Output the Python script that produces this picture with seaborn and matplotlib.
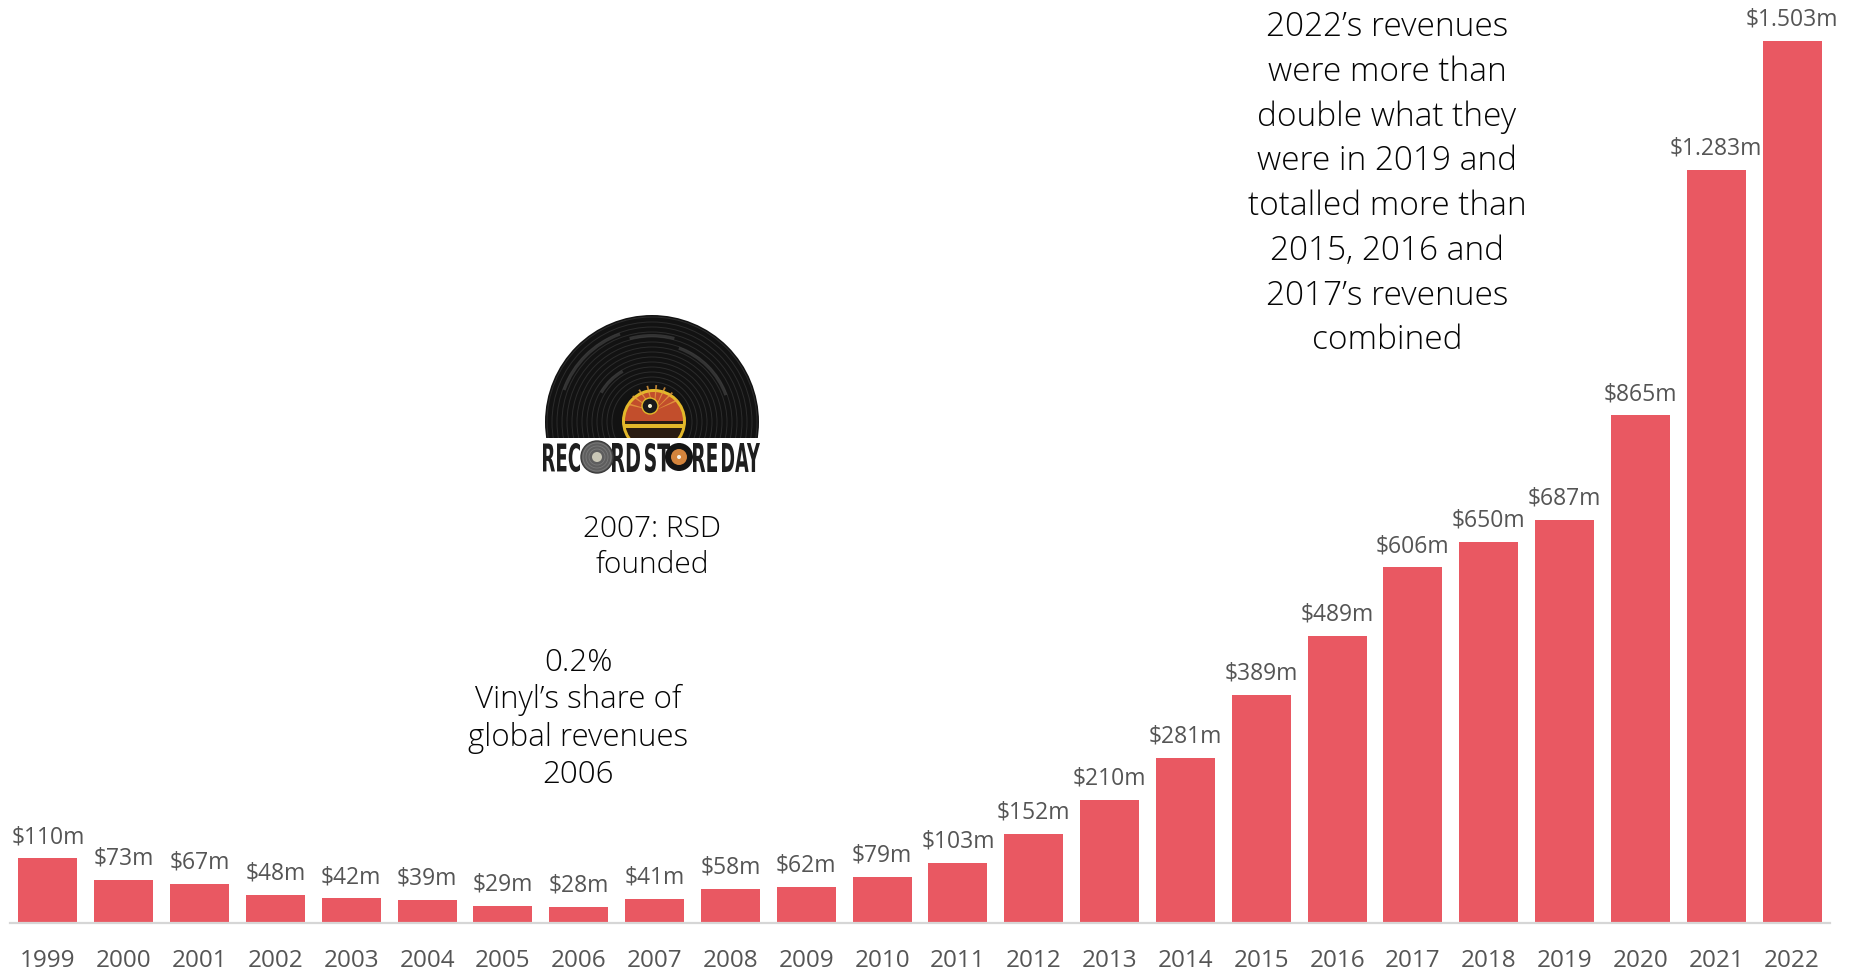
import matplotlib
matplotlib.use("Agg")
import matplotlib.pyplot as plt
import pandas as pd
import seaborn as sns
from matplotlib.patches import Circle, Rectangle, Wedge, PathPatch
from matplotlib.textpath import TextPath
from matplotlib.font_manager import FontProperties
from matplotlib.transforms import Affine2D

# Global vinyl revenues, US$ millions
years = [str(y) for y in range(1999, 2023)]
revenue_musd = [110, 73, 67, 48, 42, 39, 29, 28, 41, 58, 62, 79,
                103, 152, 210, 281, 389, 489, 606, 650, 687, 865, 1283, 1503]

note_2022 = ("2022\u2019s revenues\nwere more than\ndouble what they\n"
             "were in 2019 and\ntotalled more than\n2015, 2016 and\n"
             "2017\u2019s revenues\ncombined")
note_rsd = "2007: RSD\nfounded"
note_share = "0.2%\nVinyl\u2019s share of\nglobal revenues\n2006"

BAR = "#e95862"
LABEL_GREY = "#555555"
NOTE_INK = "#050505"

sns.set_theme(style="white")
plt.rcParams["font.family"] = ["Open Sans", "DejaVu Sans"]

W, H = 1851, 973
fig = plt.figure(figsize=(W / 100, H / 100), dpi=100)
fig.patch.set_facecolor("white")


def fx(px):
    return px / W


def fy(py):
    return 1 - py / H


ax = fig.add_axes([fx(10), fy(923), (1830 - 10) / W, 923 / H])
df = pd.DataFrame({"year": years, "revenue": revenue_musd})
sns.barplot(data=df, x="year", y="revenue", color=BAR, saturation=1,
            width=0.78, edgecolor="none", ax=ax)

ax.set_xlim(-0.5, len(years) - 0.5)
ax.set_ylim(0, max(revenue_musd) * 923 / 882)
ax.set_xlabel("")
ax.set_ylabel("")
ax.set_yticks([])
for side in ("top", "left", "right"):
    ax.spines[side].set_visible(False)
ax.spines["bottom"].set_color("#d6d6d6")
ax.spines["bottom"].set_linewidth(1.6)
ax.tick_params(axis="x", length=0, pad=18.5, labelsize=17.5, labelcolor=LABEL_GREY)
ax.set_facecolor("none")

for i, v in enumerate(revenue_musd):
    txt = "$" + f"{v:,}".replace(",", ".") + "m"
    ax.annotate(txt, (i, v), xytext=(0, 11), textcoords="offset points",
                ha="center", va="baseline", fontsize=16.5, color=LABEL_GREY)

# Annotations
fig.text(fx(1387), fy(184), note_2022, ha="center", va="center",
         fontsize=24, color=NOTE_INK, linespacing=1.44, fontweight=300)
fig.text(fx(652), fy(547), note_rsd, ha="center", va="center",
         fontsize=21.5, color=NOTE_INK, linespacing=1.3, fontweight=300)
fig.text(fx(578), fy(719), note_share, ha="center", va="center",
         fontsize=22.5, color=NOTE_INK, linespacing=1.22, fontweight=300)

# Record Store Day logo, drawn in pixel-like coordinates
lx = fig.add_axes([fx(530), fy(500), 260 / W, 200 / H])
lx.set_xlim(530, 790)
lx.set_ylim(500, 300)
lx.axis("off")

clip = Rectangle((530, 300), 260, 138, transform=lx.transData)
cx, cy, R = 652, 422, 107
disk = Circle((cx, cy), R, fc="#121212", ec="none")
lx.add_patch(disk)
disk.set_clip_path(clip)
for r in range(40, 106, 5):
    g = Circle((cx, cy), r, fill=False, ec="#2c2c2c", lw=0.7)
    lx.add_patch(g)
    g.set_clip_path(clip)
for r, a0, a1 in [(95, 200, 250), (80, 290, 340), (60, 210, 240), (88, 255, 285)]:
    sheen = Wedge((cx, cy), r, a0, a1, width=3, fc="#4a4a4a", ec="none", alpha=0.6)
    lx.add_patch(sheen)
    sheen.set_clip_path(clip)

lcx, lcy = 654, 421
ring = Circle((lcx, lcy), 32, fc="#e3b82a", ec="none")
lx.add_patch(ring)
ring.set_clip_path(clip)
top_half = Wedge((lcx, lcy), 29, 180, 360, fc="#c24e2c", ec="none")
lx.add_patch(top_half)
bottom_half = Wedge((lcx, lcy), 29, 0, 180, fc="#2a1c12", ec="none")
lx.add_patch(bottom_half)
bottom_half.set_clip_path(clip)
band = Rectangle((624, 424), 60, 3.5, fc="#e3b82a", ec="none")
lx.add_patch(band)
band.set_clip_path(clip)
for ang in range(195, 350, 20):
    ray = Wedge((lcx, lcy - 10), 26, ang - 2, ang + 2, fc="#e8a040", ec="none", alpha=0.8)
    lx.add_patch(ray)
lx.add_patch(Circle((650, 406), 8, fc="#1b1b1b", ec="#e3b82a", lw=1))
lx.add_patch(Circle((650, 406), 2, fc="#f5f0d0", ec="none"))

word_font = FontProperties(family="DejaVu Sans", weight="bold")


def fit_text(s, x0, x1, ytop, ybot, color="#1e1e1e"):
    tp = TextPath((0, 0), s, size=10, prop=word_font)
    bb = tp.get_extents()
    tr = (Affine2D().translate(-bb.x0, -bb.y0)
          .scale((x1 - x0) / bb.width, -(ybot - ytop) / bb.height)
          .translate(x0, ybot))
    lx.add_patch(PathPatch(tr.transform_path(tp), fc=color, ec="none"))


fit_text("REC", 543, 580, 443, 472)
fit_text("RD", 612, 640, 443, 472)
fit_text("ST", 645, 670, 443, 472)
fit_text("RE", 693, 717, 443, 472)
fit_text("DAY", 722, 760, 443, 472)

# small records standing in for the letter O
lx.add_patch(Circle((597, 457), 16, fc="#5e5e5e", ec="#3a3a3a", lw=1))
for r in (8, 11, 14):
    lx.add_patch(Circle((597, 457), r, fill=False, ec="#7a7a7a", lw=0.6))
lx.add_patch(Circle((597, 457), 5, fc="#c9c7b6", ec="none"))
lx.add_patch(Circle((679, 457), 14, fc="#141414", ec="none"))
lx.add_patch(Circle((679, 457), 8, fc="#d4843c", ec="none"))
lx.add_patch(Circle((679, 457), 2, fc="#f7f2e6", ec="none"))

fig.savefig("out.png", dpi=100, facecolor="white")
